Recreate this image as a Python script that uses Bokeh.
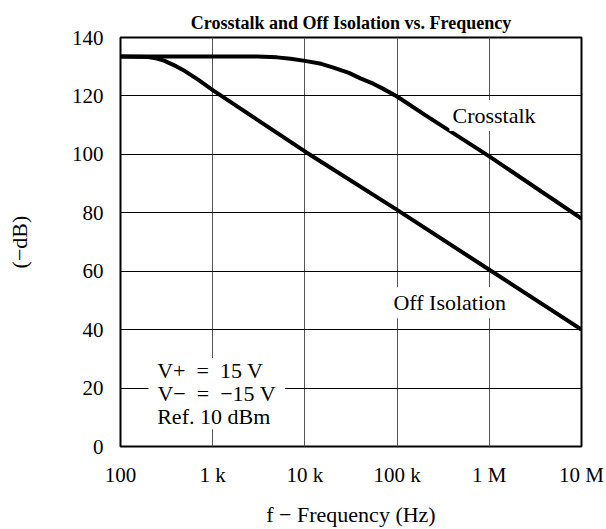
from bokeh.plotting import figure
from bokeh.models import FixedTicker, Label, Range1d
from bokeh.embed import file_html
from bokeh.resources import INLINE

# Data
freq_ct = [100, 1000, 3000, 5000, 7000, 10000, 15000, 20000, 30000, 40000, 55000, 70000, 100000, 200000, 1e6, 1e7]
crosstalk = [133.5, 133.5, 133.5, 133.2, 132.7, 132, 131, 129.8, 127.9, 126, 124.2, 122.5, 119.8, 113.5, 99.3, 78]
freq_oi = [100, 200, 250, 300, 400, 500, 700, 1000, 10000, 100000, 1e6, 1e7]
off_isolation = [133.5, 133.3, 132.8, 132, 130.2, 128.5, 125.5, 122, 101, 81, 60.5, 40]
x_ticks = [100, 1000, 10000, 100000, 1e6, 1e7]
x_tick_labels = ["100", "1 k", "10 k", "100 k", "1 M", "10 M"]
y_ticks = [0, 20, 40, 60, 80, 100, 120, 140]

FONT = "Liberation Serif"
TICK_FS = "21px"
LAB_FS = "22px"

p = figure(width=606, height=529, x_axis_type="log", output_backend="svg",
           toolbar_location=None, title="Crosstalk and Off Isolation vs. Frequency",
           x_range=Range1d(100, 1e7), y_range=Range1d(0, 140),
           min_border_left=120, min_border_right=25, min_border_top=37, min_border_bottom=83)

p.title.align = "center"
p.title.text_font = FONT
p.title.text_font_size = "18px"
p.title.text_font_style = "bold"
p.title.text_color = "black"
p.title.standoff = 10

p.xaxis.ticker = FixedTicker(ticks=x_ticks)
p.xaxis.major_label_overrides = {t: l for t, l in zip(x_ticks, x_tick_labels)}
p.yaxis.ticker = FixedTicker(ticks=y_ticks)

for ax in (p.xaxis, p.yaxis):
    ax.axis_line_color = None
    ax.major_tick_line_color = None
    ax.minor_tick_line_color = None
    ax.major_tick_out = 0
    ax.major_tick_in = 0
    ax.minor_tick_out = 0
    ax.minor_tick_in = 0
    ax.major_label_text_font = FONT
    ax.major_label_text_font_size = TICK_FS
    ax.major_label_text_color = "black"
    ax.axis_label_text_font = FONT
    ax.axis_label_text_font_size = LAB_FS
    ax.axis_label_text_font_style = "normal"
    ax.axis_label_text_color = "black"

p.xaxis.axis_label = "f − Frequency (Hz)"
p.yaxis.axis_label = "(−dB)"
p.xaxis.major_label_standoff = 16
p.yaxis.major_label_standoff = 17
p.xaxis.axis_label_standoff = 12
p.yaxis.axis_label_standoff = 37

p.xgrid.grid_line_color = "#555555"
p.ygrid.grid_line_color = "black"
p.xgrid.grid_line_width = 1
p.ygrid.grid_line_width = 1
p.outline_line_color = "black"
p.outline_line_width = 2

p.line(freq_ct, crosstalk, line_color="black", line_width=4)
p.line(freq_oi, off_isolation, line_color="black", line_width=4)

def lab(x, y, t, pad=3):
    p.add_layout(Label(x=x, y=y, text=t, text_font=FONT, text_font_size=LAB_FS,
                       text_color="black", text_baseline="middle", text_align="left",
                       background_fill_color="white", padding=pad))

EN = "\u2002"
lab(370000, 113.3, "Crosstalk")
lab(84700, 49.2, "Off Isolation")
lab(250, 26.0, "V+" + EN + "=" + EN + "15 V", pad=0)
lab(250, 10.2, "Ref. 10 dBm", pad=0)
lab(201, 18.1, "V−" + EN + "=" + EN + "−15 V", pad=dict(left=9, right=9, top=0, bottom=0))

open("out.html", "w").write(file_html(p, INLINE))
